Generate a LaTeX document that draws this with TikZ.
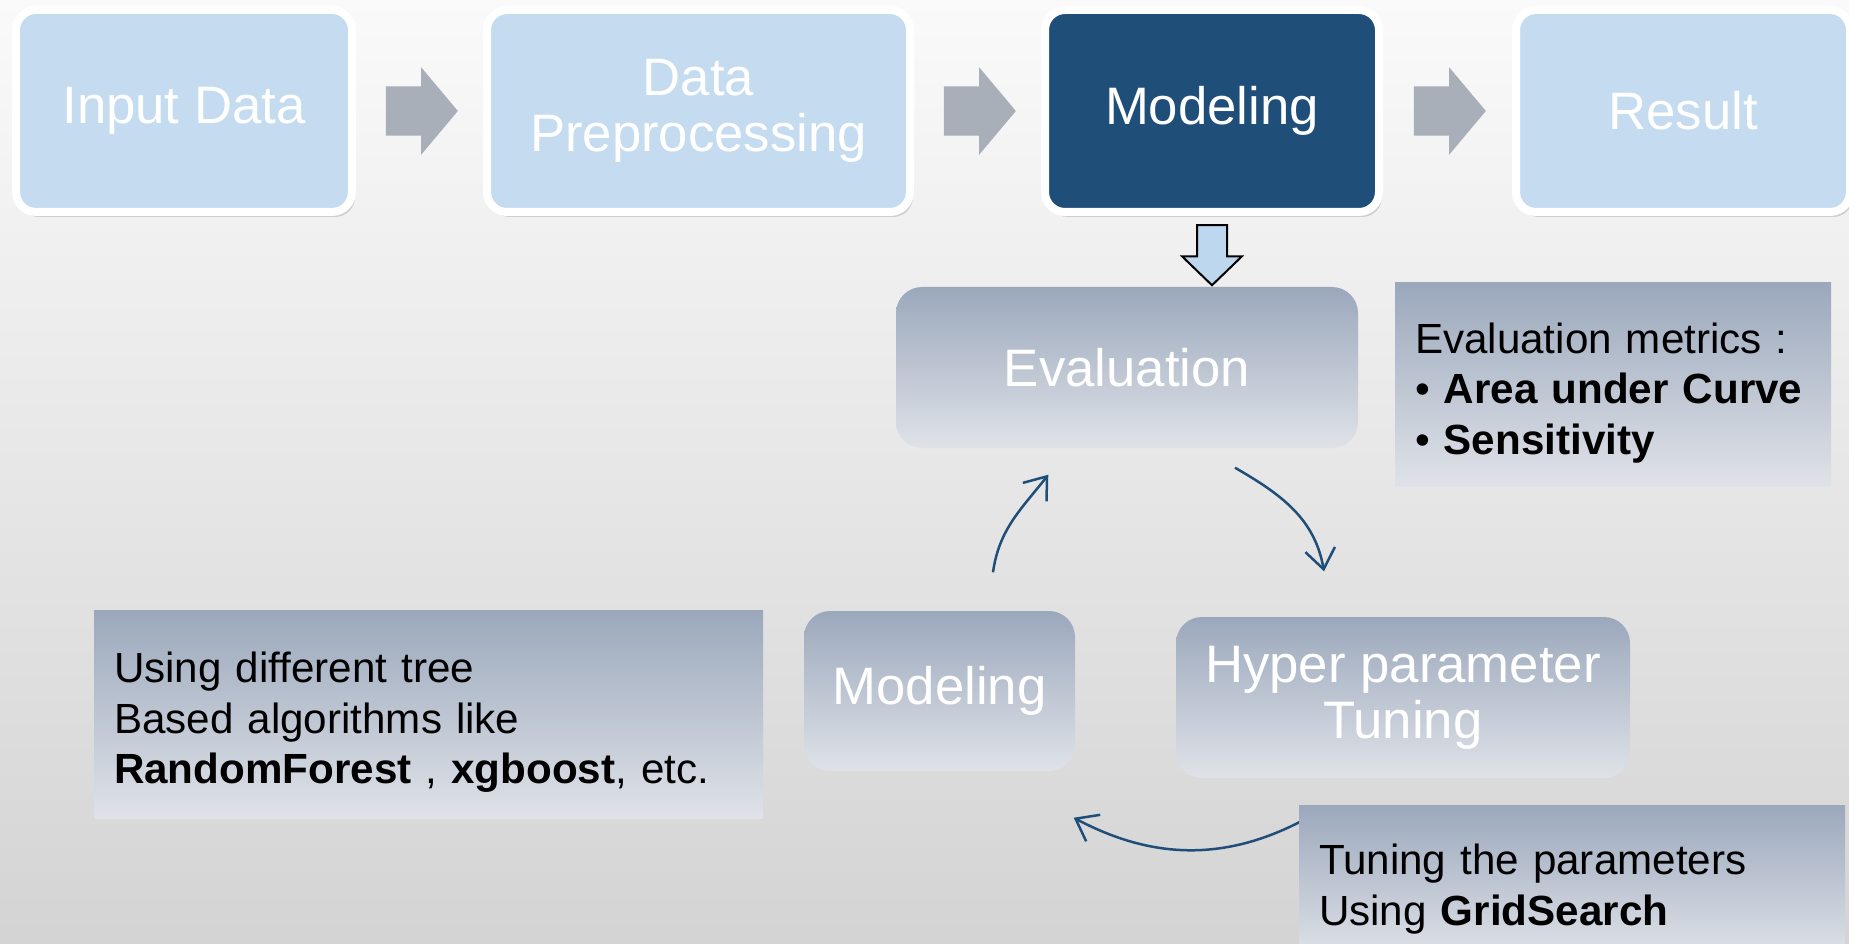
\documentclass[tikz,border=0pt]{standalone}
\usepackage{fontspec}
\setmainfont{Liberation Sans}
\usetikzlibrary{shapes.arrows,shadows,calc,arrows.meta}

\definecolor{lightbox}{HTML}{C5DCF0}
\definecolor{darkbox}{HTML}{1F4E79}
\definecolor{arrowgray}{HTML}{A9AFB9}
\definecolor{downblue}{HTML}{BDD7EE}
\definecolor{gradtop}{HTML}{9BA8BC}
\definecolor{gradbot}{HTML}{DFE2E8}
\definecolor{loopcol}{HTML}{1F4E79}

\begin{document}
\begin{tikzpicture}[
	stage/.style={draw=white,line width=0.08cm,rounded corners=0.2cm,minimum height=2.02cm,
		text=white,align=center,font=\fontsize{15}{16}\selectfont,
		drop shadow={opacity=0.3,shadow xshift=0.03cm,shadow yshift=-0.05cm}},
	flowarrow/.style={single arrow,fill=arrowgray,minimum height=0.72cm,xshift=-0.08cm,
		single arrow head extend=0.19cm,single arrow tip angle=100,inner xsep=0pt,inner ysep=0.24cm},
	loopbox/.style={rounded corners=0.26cm,top color=gradtop,bottom color=gradbot,
		text=white,align=center,font=\fontsize{15}{16}\selectfont,minimum height=1.61cm},
	notebox/.style={top color=gradtop,bottom color=gradbot,align=left,inner xsep=0.2cm,
		font=\fontsize{12}{14.4}\selectfont,execute at begin node={\rule{0pt}{0.47cm}}},
	loopline/.style={loopcol,line width=0.025cm,-{Straight Barb[length=0.2cm,width=0.3cm]}}
	]
	%========
	%Background
	%========
	\useasboundingbox (0,0) rectangle (18.49,9.43);
	\clip (0,0) rectangle (18.49,9.43);
	\shade[top color=white!98!black,bottom color=white!83!black] (0,0) rectangle (18.49,9.43);

	%========
	%Pipeline
	%========
	\node[stage,fill=lightbox,minimum width=3.36cm] (inp) at (1.84,8.32) {Input Data};
	\node[stage,fill=lightbox,minimum width=4.23cm] (prep) at (6.985,8.32) {Data\\Preprocessing};
	\node[stage,fill=darkbox,minimum width=3.34cm] (mod) at (12.12,8.32) {Modeling};
	\node[stage,fill=lightbox,minimum width=3.34cm] (res) at (16.83,8.32) {Result};

	\node[flowarrow] (ar1) at ($(inp.east)!0.5!(prep.west)$) {};
	\node[flowarrow] (ar2) at ($(prep.east)!0.5!(mod.west)$) {};
	\node[flowarrow] (ar3) at ($(mod.east)!0.5!(res.west)$) {};

	\node[single arrow,fill=downblue,draw=black,line width=0.02cm,shape border rotate=270,
		minimum height=0.6cm,inner xsep=0.14cm,inner ysep=0pt,single arrow head extend=0.15cm,
		single arrow tip angle=92] (down) at ($(mod.south)+(0,-0.32)$) {};

	%========
	%Loop
	%========
	\node[loopbox,minimum width=4.62cm] (eval) at (11.27,5.755) {Evaluation};
	\node[loopbox,minimum width=2.71cm,minimum height=1.60cm] (lmod) at (9.395,2.52) {Modeling};
	\node[loopbox,minimum width=4.54cm] (hyp) at (14.03,2.455) {Hyper parameter\\Tuning};

	\draw[loopline] ($(lmod.north)+(0.535,0.38)$) to[out=82,in=232] ($(eval.south west)+(1.53,-0.26)$);
	\draw[loopline] ($(eval.south)+(1.08,-0.19)$) to[out=-30,in=100] ($(hyp.north)+(-0.79,0.45)$);
	\draw[loopline] ($(hyp.south)+(-0.88,-0.35)$) to[out=210,in=-28] ($(lmod.south east)+(-0.02,-0.46)$);

	%========
	%Notes
	%========
	\node[notebox,text width=3.96cm,minimum height=2.03cm] (metric) at (16.13,5.585)
		{Evaluation metrics :\\• \textbf{Area under Curve}\\• \textbf{Sensitivity}};
	\node[notebox,text width=6.29cm,minimum height=2.08cm] (algo) at (4.285,2.29)
		{Using different tree\\Based algorithms like\\\textbf{RandomForest} , \textbf{xgboost}, etc.};
	\node[notebox,text width=5.06cm,minimum height=1.52cm] (tune) at (15.72,0.62)
		{Tuning the parameters\\Using \textbf{GridSearch}};
\end{tikzpicture}
\end{document}
